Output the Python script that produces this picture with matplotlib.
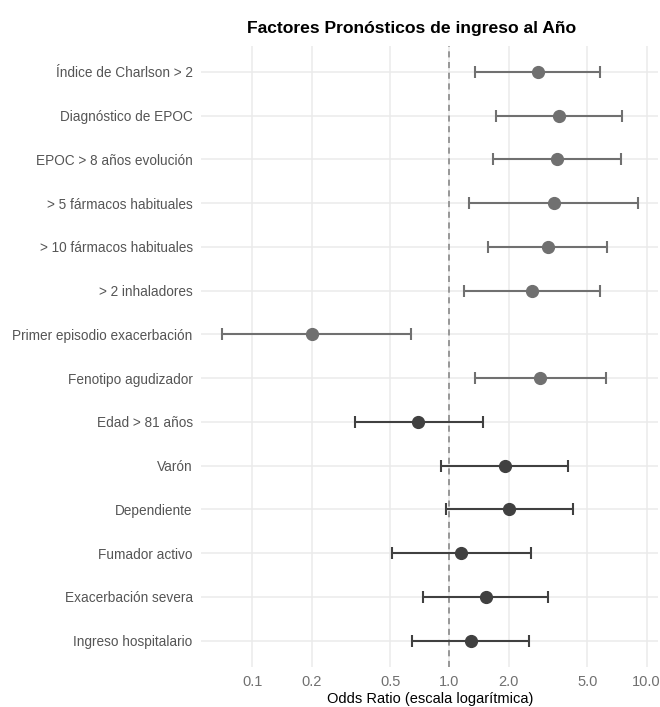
import numpy as np
import matplotlib
matplotlib.use("Agg")
import matplotlib.pyplot as plt

# Factores (de arriba a abajo) y odds ratio con IC 95%
factores = [
    "Índice de Charlson > 2",
    "Diagnóstico de EPOC",
    "EPOC > 8 años evolución",
    "> 5 fármacos habituales",
    "> 10 fármacos habituales",
    "> 2 inhaladores",
    "Primer episodio exacerbación",
    "Fenotipo agudizador",
    "Edad > 81 años",
    "Varón",
    "Dependiente",
    "Fumador activo",
    "Exacerbación severa",
    "Ingreso hospitalario",
]
odds_ratio = [2.82, 3.58, 3.51, 3.38, 3.16, 2.62, 0.20, 2.88, 0.69, 1.91, 2.01, 1.15, 1.53, 1.29]
ic_inf = [1.35, 1.72, 1.67, 1.26, 1.575, 1.18, 0.070, 1.35, 0.330, 0.906, 0.961, 0.510, 0.737, 0.648]
ic_sup = [5.82, 7.49, 7.41, 9.01, 6.32, 5.80, 0.639, 6.22, 1.475, 4.01, 4.25, 2.59, 3.16, 2.53]
grupo = ["a"] * 8 + ["b"] * 6
colores = {"a": "#707070", "b": "#404040"}

x_ticks = [0.1, 0.2, 0.5, 1.0, 2.0, 5.0, 10.0]
x_ticklabels = ["0.1", "0.2", "0.5", "1.0", "2.0", "5.0", "10.0"]

plt.rcParams['font.family'] = ['Liberation Sans', 'DejaVu Sans']

fig = plt.figure(figsize=(6.6, 7.07), dpi=100)
ax = fig.add_axes([0.3045, 0.0566, 0.6932, 0.8788])

n = len(factores)
ypos = np.arange(n)[::-1]

for i in range(n):
    c = colores[grupo[i]]
    ax.errorbar(odds_ratio[i], ypos[i],
                xerr=[[odds_ratio[i] - ic_inf[i]], [ic_sup[i] - odds_ratio[i]]],
                fmt="o", color=c, ecolor=c, elinewidth=1.5, capsize=4, capthick=1.5,
                markersize=8.5, zorder=3)

ax.axvline(1.0, color="#808080", linestyle=(0, (4, 3)), linewidth=1.1, zorder=2)

ax.set_xscale("log")
lo, hi = np.log10(min(ic_inf)), np.log10(max(ic_sup))
pad = 0.05 * (hi - lo)
ax.set_xlim(10 ** (lo - pad), 10 ** (hi + pad))
ax.set_ylim(-0.6, n - 0.4)

ax.set_xticks(x_ticks)
ax.set_xticklabels(x_ticklabels)
ax.xaxis.set_minor_locator(matplotlib.ticker.NullLocator())
ax.set_yticks(ypos)
ax.set_yticklabels(factores)

ax.grid(True, color="#ebebeb", linewidth=1.1, zorder=0)
ax.set_axisbelow(True)
for s in ax.spines.values():
    s.set_visible(False)
ax.tick_params(axis="y", length=0, labelsize=9.8, labelcolor="#555555", pad=6)
ax.tick_params(axis="x", length=0, labelsize=10.5, labelcolor="#707070", pad=6)

ax.set_xlabel("Odds Ratio (escala logarítmica)", fontsize=10.5, color="black", labelpad=2)
fig.text(412 / 660, 1 - 28 / 707, "Factores Pronósticos de ingreso al Año",
         fontsize=12.6, fontweight="bold", ha="center", va="center")

fig.savefig("out.png", dpi=100)
